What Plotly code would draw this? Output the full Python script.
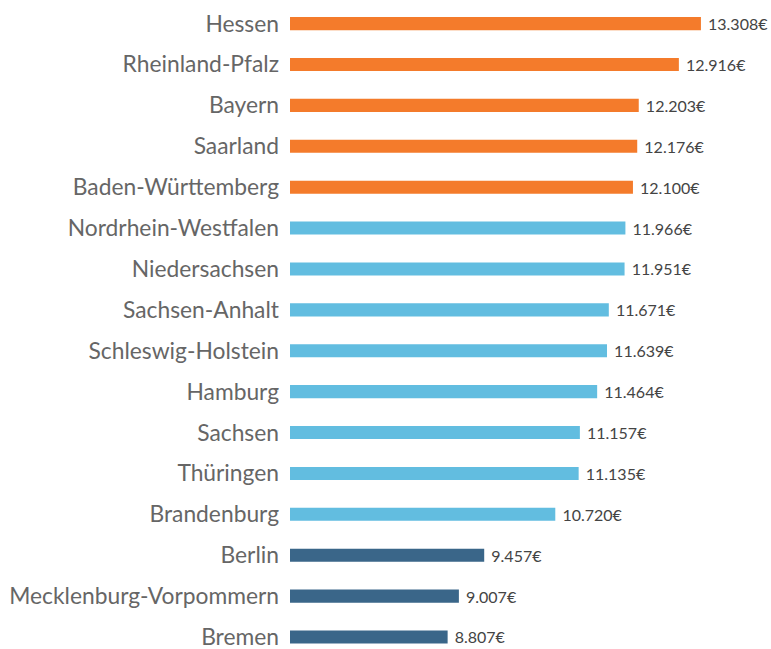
import plotly.graph_objects as go

states = ["Hessen", "Rheinland-Pfalz", "Bayern", "Saarland", "Baden-Württemberg",
          "Nordrhein-Westfalen", "Niedersachsen", "Sachsen-Anhalt", "Schleswig-Holstein",
          "Hamburg", "Sachsen", "Thüringen", "Brandenburg", "Berlin",
          "Mecklenburg-Vorpommern", "Bremen"]
values = [13308, 12916, 12203, 12176, 12100, 11966, 11951, 11671, 11639,
          11464, 11157, 11135, 10720, 9457, 9007, 8807]
groups = ["top"] * 5 + ["mid"] * 8 + ["low"] * 3
group_colors = {"top": "#F47B2B", "mid": "#62BDE0", "low": "#3A6689"}

def fmt(v):
    return f"{v:,}".replace(",", ".") + "€"

# plot bottom-to-top
y = states[::-1]
x = values[::-1]
cols = [group_colors[g] for g in groups[::-1]]
texts = [" " + fmt(v) for v in x]

fig = go.Figure(go.Bar(
    y=y, x=x, orientation="h",
    marker=dict(color=cols, line=dict(width=0)),
    text=texts, textposition="outside", cliponaxis=False,
    constraintext="none",
    textfont=dict(family="Lato", size=16, color="#444444"),
    hoverinfo="skip",
))

fig.update_layout(
    width=771, height=649,
    margin=dict(l=290, r=0, t=0, b=0),
    paper_bgcolor="white", plot_bgcolor="white",
    bargap=0.68, showlegend=False,
    font=dict(family="Lato"),
)
fig.update_xaxes(range=[6006, 14553], visible=False, showgrid=False, zeroline=False)
fig.update_yaxes(range=[-0.2936, 15.577], showgrid=False, zeroline=False,
                 showline=False, ticks="", automargin=False,
                 tickfont=dict(family="Lato", size=22.8, color="#666666"),
                 ticklabelstandoff=10)

fig.write_html(
    "out.html",
    config={"displayModeBar": False},
    post_script="document.body.style.margin='0';document.documentElement.style.overflow='hidden';",
)
